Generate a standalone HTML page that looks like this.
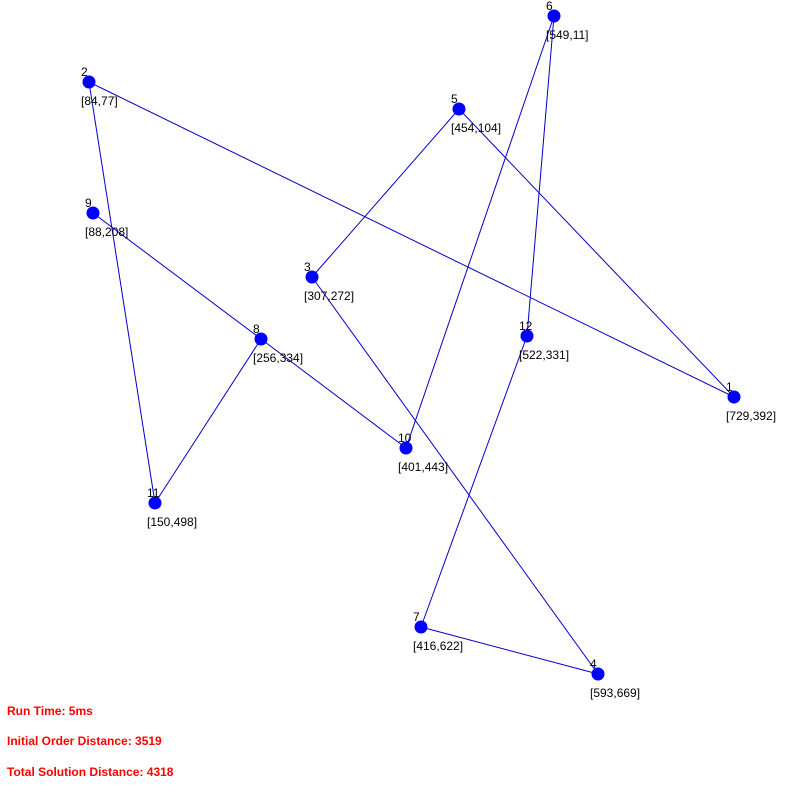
<!DOCTYPE html>
<html><head><meta charset="utf-8"><style>
html,body{margin:0;padding:0;background:#fff;}
svg{display:block;}
text{font-family:"Liberation Sans",Arial,sans-serif;font-size:12px;}
</style></head><body>
<svg width="792" height="786" xmlns="http://www.w3.org/2000/svg">
<g stroke="#0000c8" stroke-width="1">
<line x1="89" y1="82" x2="734" y2="397"/>
<line x1="89" y1="82" x2="155" y2="503"/>
<line x1="93" y1="213" x2="261" y2="339"/>
<line x1="261" y1="339" x2="155" y2="503"/>
<line x1="261" y1="339" x2="406" y2="448"/>
<line x1="406" y1="448" x2="554" y2="16"/>
<line x1="554" y1="16" x2="527" y2="336"/>
<line x1="527" y1="336" x2="421" y2="627"/>
<line x1="421" y1="627" x2="598" y2="674"/>
<line x1="598" y1="674" x2="312" y2="277"/>
<line x1="312" y1="277" x2="459" y2="109"/>
<line x1="459" y1="109" x2="734" y2="397"/>
</g>
<g fill="#0000ff">
<circle cx="734" cy="397" r="6.5"/><circle cx="89" cy="82" r="6.5"/>
<circle cx="312" cy="277" r="6.5"/><circle cx="598" cy="674" r="6.5"/>
<circle cx="459" cy="109" r="6.5"/><circle cx="554" cy="16" r="6.5"/>
<circle cx="421" cy="627" r="6.5"/><circle cx="261" cy="339" r="6.5"/>
<circle cx="93" cy="213" r="6.5"/><circle cx="406" cy="448" r="6.5"/>
<circle cx="155" cy="503" r="6.5"/><circle cx="527" cy="336" r="6.5"/>
</g>
<g fill="#000">
<text x="726" y="391">1</text><text x="726" y="420">[729,392]</text>
<text x="81" y="76">2</text><text x="81" y="105">[84,77]</text>
<text x="304" y="271">3</text><text x="304" y="300">[307,272]</text>
<text x="590" y="668">4</text><text x="590" y="697">[593,669]</text>
<text x="451" y="103">5</text><text x="451" y="132">[454,104]</text>
<text x="546" y="10">6</text><text x="546" y="39">[549,11]</text>
<text x="413" y="621">7</text><text x="413" y="650">[416,622]</text>
<text x="253" y="333">8</text><text x="253" y="362">[256,334]</text>
<text x="85" y="207">9</text><text x="85" y="236">[88,208]</text>
<text x="398" y="442">10</text><text x="398" y="471">[401,443]</text>
<text x="147" y="497">11</text><text x="147" y="526">[150,498]</text>
<text x="519" y="330">12</text><text x="519" y="359">[522,331]</text>
</g>
<g fill="#ff0000" font-weight="bold">
<text x="7" y="715" font-weight="bold">Run Time: 5ms</text>
<text x="7" y="745" font-weight="bold">Initial Order Distance: 3519</text>
<text x="7" y="776" font-weight="bold">Total Solution Distance: 4318</text>
</g>
</svg>
</body></html>
